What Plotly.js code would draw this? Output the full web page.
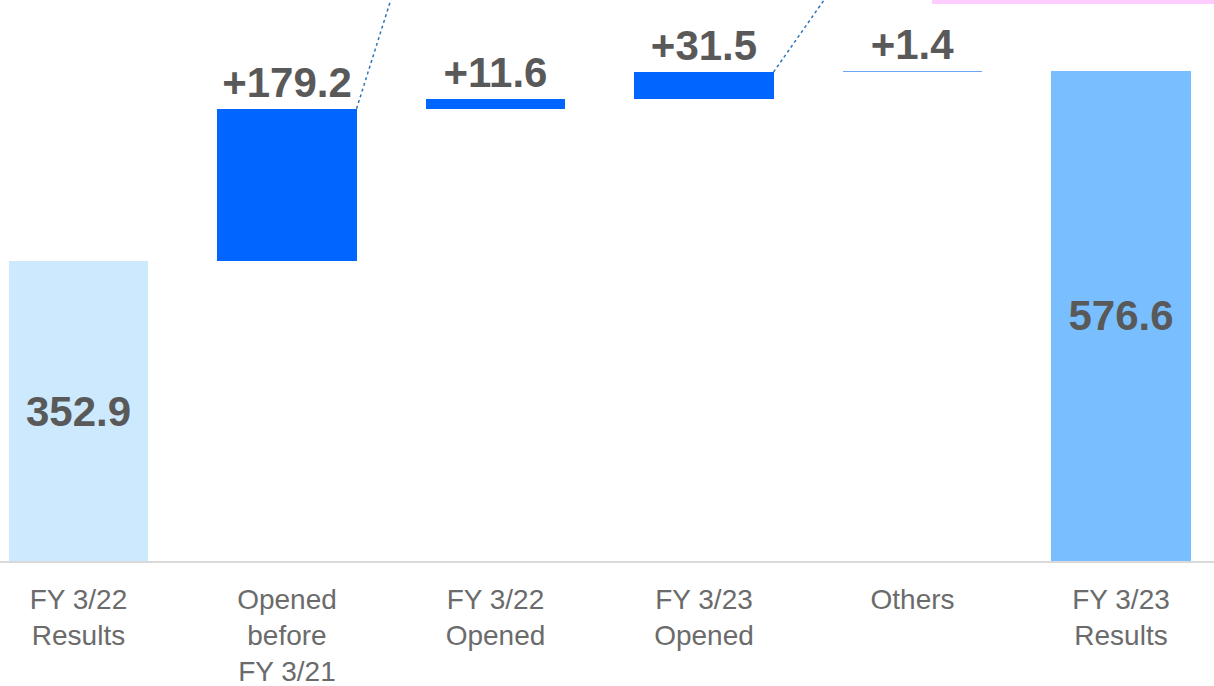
<!DOCTYPE html>
<html><head><meta charset="utf-8">
<script src="https://cdn.plot.ly/plotly-3.0.1.min.js"></script>
<style>html,body{margin:0;padding:0;background:#fff;}#chart{width:1214px;height:686px;}</style>
</head><body><div id="chart"></div>
<script>
const categories = ["FY 3/22<br>Results", "Opened<br>before<br>FY 3/21", "FY 3/22<br>Opened", "FY 3/23<br>Opened", "Others", "FY 3/23<br>Results"];
const values = [352.9, 179.2, 11.6, 31.5, 1.4, 576.6];
const measures = ["absolute", "relative", "relative", "relative", "relative", "total"];
const labels = ["352.9", "+179.2", "+11.6", "+31.5", "+1.4", "576.6"];
const barColors = ["#cde9fd", "#0066ff", "#0066ff", "#0066ff", "#6fa4f5", "#79bfff"];

// build bases / heights from the values
const xs = categories.map((c, i) => i);
const bases = [], heights = [];
let run = 0;
values.forEach((v, i) => {
  if (measures[i] === "relative") { bases.push(run); heights.push(v); run += v; }
  else { bases.push(0); heights.push(v); run = v; }
});
const textPos = measures.map(m => m === "relative" ? "outside" : "inside");
const FONT = "Arial, 'Liberation Sans', sans-serif";

const trace = {
  type: "bar", x: xs, y: heights, base: bases, width: 0.667,
  marker: {color: barColors, line: {width: 0, color: barColors}},
  text: labels, textposition: textPos, constraintext: "none", insidetextanchor: "middle",
  textfont: {family: FONT, size: 42, color: "#595959", weight: "bold"},
  insidetextfont: {family: FONT, size: 42, color: "#595959", weight: "bold"},
  outsidetextfont: {family: FONT, size: 42, color: "#595959", weight: "bold"},
  cliponaxis: false, hoverinfo: "skip"
};

// callout leader lines from top-right corners of bars 2 and 4
const lead = [1, 3].map(i => ({
  type: "line", xref: "x", yref: "y",
  x0: i + 0.3335, y0: bases[i] + heights[i],
  x1: i + 0.3335 + (i === 1 ? 0.163 : 0.24) * 1.3, y1: bases[i] + heights[i] + (i === 1 ? 127 : 84) * 1.3,
  line: {color: "#2e75b6", width: 1.5, dash: "dot"}
}));

const layout = {
  width: 1214, height: 686,
  margin: {l: 0, r: 0, t: 0, b: 125},
  paper_bgcolor: "#fff", plot_bgcolor: "#fff",
  showlegend: false, bargap: 0,
  xaxis: {
    range: [-0.3765, 5.446], tickvals: xs, ticktext: categories,
    showgrid: false, zeroline: false, showline: true, linecolor: "#d9d9d9", linewidth: 2,
    ticks: "", ticklabelstandoff: 12,
    tickfont: {family: FONT, size: 28, color: "#6b6b6b"}
  },
  yaxis: {range: [0, 660], visible: false, showgrid: false, zeroline: false},
  shapes: lead.concat([{
    type: "rect", xref: "paper", yref: "paper",
    x0: 932 / 1214, x1: 1.01, y0: 1 - 4 / 561, y1: 1.05,
    fillcolor: "#ffccff", line: {width: 0}
  }])
};
Plotly.newPlot("chart", [trace], layout, {staticPlot: true, displayModeBar: false});
</script></body></html>
